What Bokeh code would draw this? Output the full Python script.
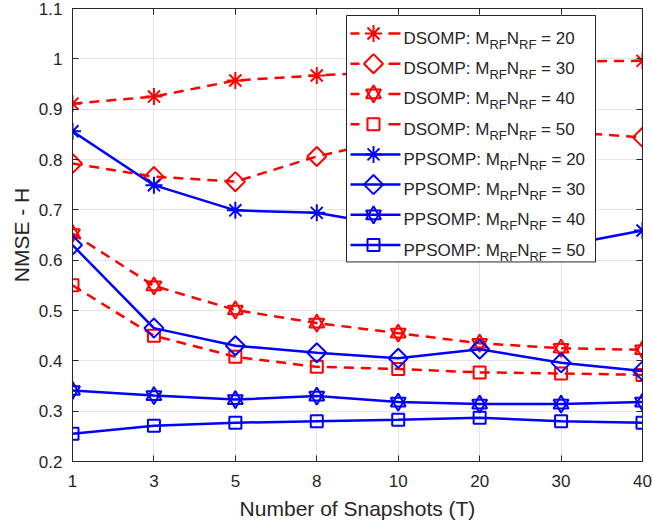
import numpy as np
from bokeh.plotting import figure
from bokeh.models import Range1d, FixedTicker, LinearAxis, ColumnDataSource
from bokeh.embed import file_html
from bokeh.resources import INLINE
from bokeh.core.properties import value

# ---------------- data ----------------
snapshots = [1, 3, 5, 8, 10, 20, 30, 40]
dsomp_20 = [0.911, 0.925, 0.957, 0.967, 0.975, 0.985, 0.995, 0.996]
dsomp_30 = [0.792, 0.766, 0.756, 0.806, 0.843, 0.850, 0.855, 0.844]
dsomp_40 = [0.653, 0.549, 0.501, 0.475, 0.455, 0.435, 0.425, 0.422]
dsomp_50 = [0.550, 0.450, 0.408, 0.388, 0.384, 0.377, 0.375, 0.372]
ppsomp_20 = [0.856, 0.749, 0.699, 0.694, 0.666, 0.645, 0.628, 0.659]
ppsomp_30 = [0.630, 0.465, 0.430, 0.416, 0.405, 0.423, 0.396, 0.380]
ppsomp_40 = [0.341, 0.331, 0.323, 0.330, 0.318, 0.314, 0.314, 0.318]
ppsomp_50 = [0.255, 0.271, 0.277, 0.280, 0.283, 0.287, 0.280, 0.277]
rf_products = [20, 30, 40, 50]
methods = ["DSOMP", "PPSOMP"]
y_ticks = [0.2, 0.3, 0.4, 0.5, 0.6, 0.7, 0.8, 0.9, 1.0, 1.1]
y_tick_labels = ["0.2", "0.3", "0.4", "0.5", "0.6", "0.7", "0.8", "0.9", "1", "1.1"]
x_label = "Number of Snapshots (T)"
y_label = "NMSE - H"

series = [
    ("DSOMP", 20, dsomp_20), ("DSOMP", 30, dsomp_30),
    ("DSOMP", 40, dsomp_40), ("DSOMP", 50, dsomp_50),
    ("PPSOMP", 20, ppsomp_20), ("PPSOMP", 30, ppsomp_30),
    ("PPSOMP", 40, ppsomp_40), ("PPSOMP", 50, ppsomp_50),
]

# ---------------- styles ----------------
FONT = "Liberation Sans"
TXT = "#262626"
method_style = {
    "DSOMP": dict(color="#ff0000", dash="10 7"),
    "PPSOMP": dict(color="#0000ff", dash="solid"),
}
# marker spec per RF product: list of (marker, size, angle)
marker_style = {
    20: [("asterisk", 17, 0.0)],
    30: [("square", 13.5, np.pi / 4)],
    40: [("triangle", 15, 0.0), ("inverted_triangle", 15, 0.0)],
    50: [("square", 12, 0.0)],
}

W, H = 652, 522
ML, MR, MT, MB = 72, 10, 8, 60
FW, FH = W - ML - MR, H - MT - MB

xs = list(range(len(snapshots)))

p = figure(width=W, height=H, output_backend="svg", toolbar_location=None,
           x_range=Range1d(0, len(snapshots) - 1), y_range=Range1d(y_ticks[0], y_ticks[-1]),
           min_border_left=ML, min_border_right=MR, min_border_top=MT, min_border_bottom=MB,
           x_axis_label=x_label, y_axis_label=y_label)
p.background_fill_color = "white"
p.border_fill_color = "white"
p.outline_line_color = TXT
p.outline_line_width = 1
p.extra_x_ranges = {"px": Range1d(0, FW)}
p.extra_y_ranges = {"py": Range1d(0, FH)}

xt = FixedTicker(ticks=xs)
yt = FixedTicker(ticks=y_ticks)
p.xaxis.ticker = xt
p.yaxis.ticker = yt
p.xgrid.ticker = xt
p.ygrid.ticker = yt
p.xaxis.major_label_overrides = {i: str(s) for i, s in enumerate(snapshots)}
p.yaxis.major_label_overrides = dict(zip(y_ticks, y_tick_labels))

for ax in (p.xaxis[0], p.yaxis[0]):
    ax.major_label_text_font = FONT
    ax.major_label_text_font_size = "17px"
    ax.major_label_text_color = TXT
    ax.axis_label_text_font = FONT
    ax.axis_label_text_font_size = "21px"
    ax.axis_label_text_font_style = "normal"
    ax.axis_label_text_color = TXT
    ax.axis_line_color = TXT
    ax.major_tick_line_color = TXT
    ax.major_tick_in = 6
    ax.major_tick_out = 0
    ax.minor_tick_line_color = None
p.xaxis.major_label_standoff = 13
p.xaxis.axis_label_standoff = 7
p.yaxis.major_label_standoff = 10
p.yaxis.axis_label_standoff = 3

for loc, tk in (("above", xt), ("right", yt)):
    ax = LinearAxis(ticker=tk, major_label_text_font_size="0px", major_label_standoff=0,
                    major_tick_in=6, major_tick_out=0, minor_tick_line_color=None,
                    axis_line_color=TXT, major_tick_line_color=TXT,
                    major_label_overrides={t: "" for t in tk.ticks})
    p.add_layout(ax, loc)

p.xgrid.grid_line_color = "#e4e4e4"
p.ygrid.grid_line_color = "#e4e4e4"

# ---------------- data series ----------------
for meth, rf, vals in series:
    st = method_style[meth]
    p.line(xs, vals, line_color=st["color"], line_width=2.5, line_dash=st["dash"])
    for mk, sz, ang in marker_style[rf]:
        p.scatter(xs, vals, marker=mk, size=sz, angle=ang, line_color=st["color"],
                  fill_color=None, line_width=2)

# ---------------- legend (pixel coordinates inside the frame) ----------------
def Y(off):
    return FH - off

AW = {'D': 722, 'S': 667, 'O': 778, 'M': 833, 'P': 667, ':': 278, ' ': 278, 'N': 722,
      'R': 722, 'F': 611, '=': 584, '0': 556, '2': 556, '3': 556, '4': 556, '5': 556}

def tw(s, fs):
    return sum(AW.get(c, 556) for c in s) * fs / 1000.0

BOX_L, BOX_R, BOX_T, ROW0, ROWH = 274, 523, 7, 25, 30.3
BOX_B = 254
LN_L, LN_R, MK_X, TX_X = 278, 328, 301, 331
FS_MAIN, FS_SUB, SUB_DROP, BASE_DROP = 17, 13, 6, 5

p.quad(left=[BOX_L], right=[BOX_R], top=[Y(BOX_T)], bottom=[Y(BOX_B)],
       fill_color="white", line_color=TXT, line_width=1,
       x_range_name="px", y_range_name="py")

main_t, main_x, main_y = [], [], []
sub_t, sub_x, sub_y = [], [], []
for i, (meth, rf, vals) in enumerate(series):
    st = method_style[meth]
    yc = Y(ROW0 + ROWH * i)
    if st["dash"] == "solid":
        segs_x = [[LN_L, LN_R]]
    else:
        segs_x = [[LN_L, LN_L + 9], [LN_R - 12, LN_R]]
    p.multi_line(xs=segs_x, ys=[[yc, yc]] * len(segs_x), line_color=st["color"],
                 line_width=2.5, x_range_name="px", y_range_name="py")
    for mk, sz, ang in marker_style[rf]:
        p.scatter([MK_X], [yc], marker=mk, size=sz, angle=ang, line_color=st["color"],
                  fill_color=None, line_width=2, x_range_name="px", y_range_name="py")
    yb = yc - BASE_DROP
    x = TX_X
    pieces = [(f"{meth}: M", False, 0.0), ("RF", True, 0.0), ("N", False, 0.0),
              ("RF", True, 0.0), (f"= {rf}", False, tw(" ", FS_MAIN))]
    for s, is_sub, gap in pieces:
        x += gap
        if is_sub:
            sub_t.append(s); sub_x.append(x); sub_y.append(yb - SUB_DROP)
            x += tw(s, FS_SUB)
        else:
            main_t.append(s); main_x.append(x); main_y.append(yb)
            x += tw(s, FS_MAIN)

p.text(x="x", y="y", text="t", source=ColumnDataSource(dict(x=main_x, y=main_y, t=main_t)),
       text_font=value(FONT), text_font_size=value(f"{FS_MAIN}px"), text_color=TXT,
       text_baseline="alphabetic", text_align="left", x_range_name="px", y_range_name="py")
p.text(x="x", y="y", text="t", source=ColumnDataSource(dict(x=sub_x, y=sub_y, t=sub_t)),
       text_font=value(FONT), text_font_size=value(f"{FS_SUB}px"), text_color=TXT,
       text_baseline="alphabetic", text_align="left", x_range_name="px", y_range_name="py")

open("out.html", "w").write(file_html(p, INLINE))
